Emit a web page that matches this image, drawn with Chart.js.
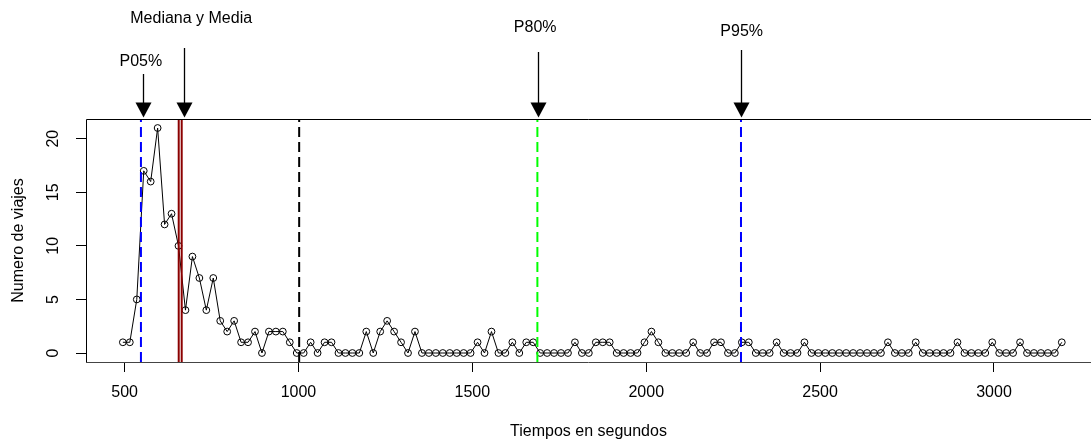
<!DOCTYPE html>
<html><head><meta charset="utf-8">
<script src="https://cdn.jsdelivr.net/npm/chart.js@4.4.1/dist/chart.umd.min.js"></script>
<style>html,body{margin:0;padding:0;background:#fff;overflow:hidden}#wrap{width:1091px;height:443px}</style>
</head><body><div id="wrap"><canvas id="c" width="1091" height="443"></canvas></div>
<script>
// ---- data ----
const tiempos = [495,515,535,555,575,595,615,635,655,675,695,715,735,755,775,795,815,835,855,875,895,915,935,955,975,995,1015,1035,1055,1075,1095,1115,1135,1155,1175,1195,1215,1235,1255,1275,1295,1315,1335,1355,1375,1395,1415,1435,1455,1475,1495,1515,1535,1555,1575,1595,1615,1635,1655,1675,1695,1715,1735,1755,1775,1795,1815,1835,1855,1875,1895,1915,1935,1955,1975,1995,2015,2035,2055,2075,2095,2115,2135,2155,2175,2195,2215,2235,2255,2275,2295,2315,2335,2355,2375,2395,2415,2435,2455,2475,2495,2515,2535,2555,2575,2595,2615,2635,2655,2675,2695,2715,2735,2755,2775,2795,2815,2835,2855,2875,2895,2915,2935,2955,2975,2995,3015,3035,3055,3075,3095,3115,3135,3155,3175,3195];
const viajes = [1,1,5,17,16,21,12,13,10,4,
  9,7,4,7,3,2,3,1,1,2,
  0,2,2,2,1,0,0,1,0,1,
  1,0,0,0,0,2,0,2,3,2,
  1,0,2,0,0,0,0,0,0,0,
  0,1,0,2,0,0,1,0,1,1,
  0,0,0,0,0,1,0,0,1,1,
  1,0,0,0,0,1,2,1,0,0,
  0,0,1,0,0,1,1,0,0,1,
  1,0,0,0,1,0,0,0,1,0,
  0,0,0,0,0,0,0,0,0,0,
  1,0,0,0,1,0,0,0,0,0,
  1,0,0,0,0,1,0,0,0,1,
  0,0,0,0,0,1];
const xTicks = [500,1000,1500,2000,2500,3000];
const yTicks = [0,5,10,15,20];
const p05 = 547, mediana = 655.6, media = 664.2, marca = 1002, p80 = 1687, p95 = 2272.5;
const etiquetas = ["P05%","Mediana y Media","P80%","P95%"];
const flechaValor = [552, 671, 1688, 2273.4];
const etiquetaValor = [546.6, 691.5, 1680.7, 2274.6];

const X_MIN = 389, X_MAX = 3279, Y_MIN = -0.84, Y_MAX = 21.84;
const FONT = '"Liberation Sans", Arial, sans-serif';

function vline(v, color, dash){
  return {type:'line', data:[{x:v,y:Y_MIN},{x:v,y:Y_MAX}], borderColor:color, borderWidth:2,
    borderDash:dash, pointRadius:0, order:1, fill:false};
}

const deco = {
  id:'deco',
  afterDraw(chart){
    const {ctx, chartArea:a, scales:{x,y}} = chart;
    ctx.save();
    ctx.lineWidth = 1; ctx.strokeStyle = '#000';
    ctx.beginPath();
    ctx.moveTo(a.left+0.5, a.bottom); ctx.lineTo(a.left+0.5, a.top+0.5); ctx.lineTo(a.right, a.top+0.5);
    ctx.stroke();
    ctx.strokeStyle = '#444';
    ctx.beginPath(); ctx.moveTo(a.left, a.bottom+0.5); ctx.lineTo(a.right, a.bottom+0.5); ctx.stroke();
    // rotated y tick labels
    ctx.fillStyle = '#000'; ctx.font = '16px ' + FONT; ctx.textAlign = 'center'; ctx.textBaseline = 'middle';
    yTicks.forEach(v => {
      ctx.save(); ctx.translate(53.5, y.getPixelForValue(v)); ctx.rotate(-Math.PI/2);
      ctx.fillText(String(v), 0, 0); ctx.restore();
    });
    // arrows
    const shaftTop = [74, 48, 52, 50];
    const labelY = [62, 18.5, 28, 31.5];
    const tip = a.top - 1.5, headH = 15, headW = 8;
    flechaValor.forEach((v,i) => {
      const px = Math.round(x.getPixelForValue(v)) + 0.5;
      ctx.strokeStyle = '#000'; ctx.lineWidth = 1.3;
      ctx.beginPath(); ctx.moveTo(px, shaftTop[i]); ctx.lineTo(px, tip - headH + 1); ctx.stroke();
      ctx.fillStyle = '#000';
      ctx.beginPath(); ctx.moveTo(px - headW, tip - headH); ctx.lineTo(px + headW, tip - headH); ctx.lineTo(px, tip); ctx.closePath(); ctx.fill();
    });
    ctx.font = '16px ' + FONT; ctx.textAlign = 'center'; ctx.textBaseline = 'middle';
    etiquetas.forEach((t,i) => { ctx.fillText(t, x.getPixelForValue(etiquetaValor[i]), labelY[i]); });
    ctx.restore();
  }
};

new Chart(document.getElementById('c'), {
  data: {
    datasets: [
      vline(p05, '#0000FF', [10,5]),
      vline(mediana, '#8B0000', []),
      vline(media, '#8B0000', []),
      vline(marca, '#000000', [10,5]),
      vline(p80, '#00FF00', [10,5]),
      vline(p95, '#0000FF', [10,5]),
      {type:'line', data: tiempos.map((t,i)=>({x:t, y:viajes[i]})), borderColor:'#000', borderWidth:1,
       pointRadius:3.4, pointBorderWidth:1, pointBorderColor:'#000', pointBackgroundColor:'rgba(0,0,0,0)',
       tension:0, order:2, fill:false}
    ]
  },
  options: {
    responsive:false, animation:false, devicePixelRatio:1,
    layout:{autoPadding:false, padding:{top:119, left:0, right:0, bottom:0}},
    plugins:{legend:{display:false}, tooltip:{enabled:false}},
    scales:{
      x:{type:'linear', min:X_MIN, max:X_MAX,
        afterBuildTicks: s => { s.ticks = xTicks.map(v => ({value:v})); },
        afterFit: s => { s.height = 81; },
        border:{display:false},
        grid:{drawOnChartArea:false, drawTicks:true, tickLength:10, color:'#000', lineWidth:1},
        ticks:{color:'#000', padding:11, maxRotation:0, autoSkip:false, font:{family:FONT, size:16},
          callback: v => String(v)},
        title:{display:true, text:'Tiempos en segundos', color:'#000', font:{family:FONT, size:16}, padding:{top:0, bottom:1.5}}
      },
      y:{type:'linear', min:Y_MIN, max:Y_MAX,
        afterBuildTicks: s => { s.ticks = yTicks.map(v => ({value:v})); },
        afterFit: s => { s.width = 86; },
        border:{display:false},
        grid:{drawOnChartArea:false, drawTicks:true, tickLength:10, color:'#000', lineWidth:1},
        ticks:{display:false},
        title:{display:true, text:'Numero de viajes', color:'#000', font:{family:FONT, size:16}, padding:{top:9, bottom:0}}
      }
    }
  },
  plugins:[deco]
});
</script></body></html>
